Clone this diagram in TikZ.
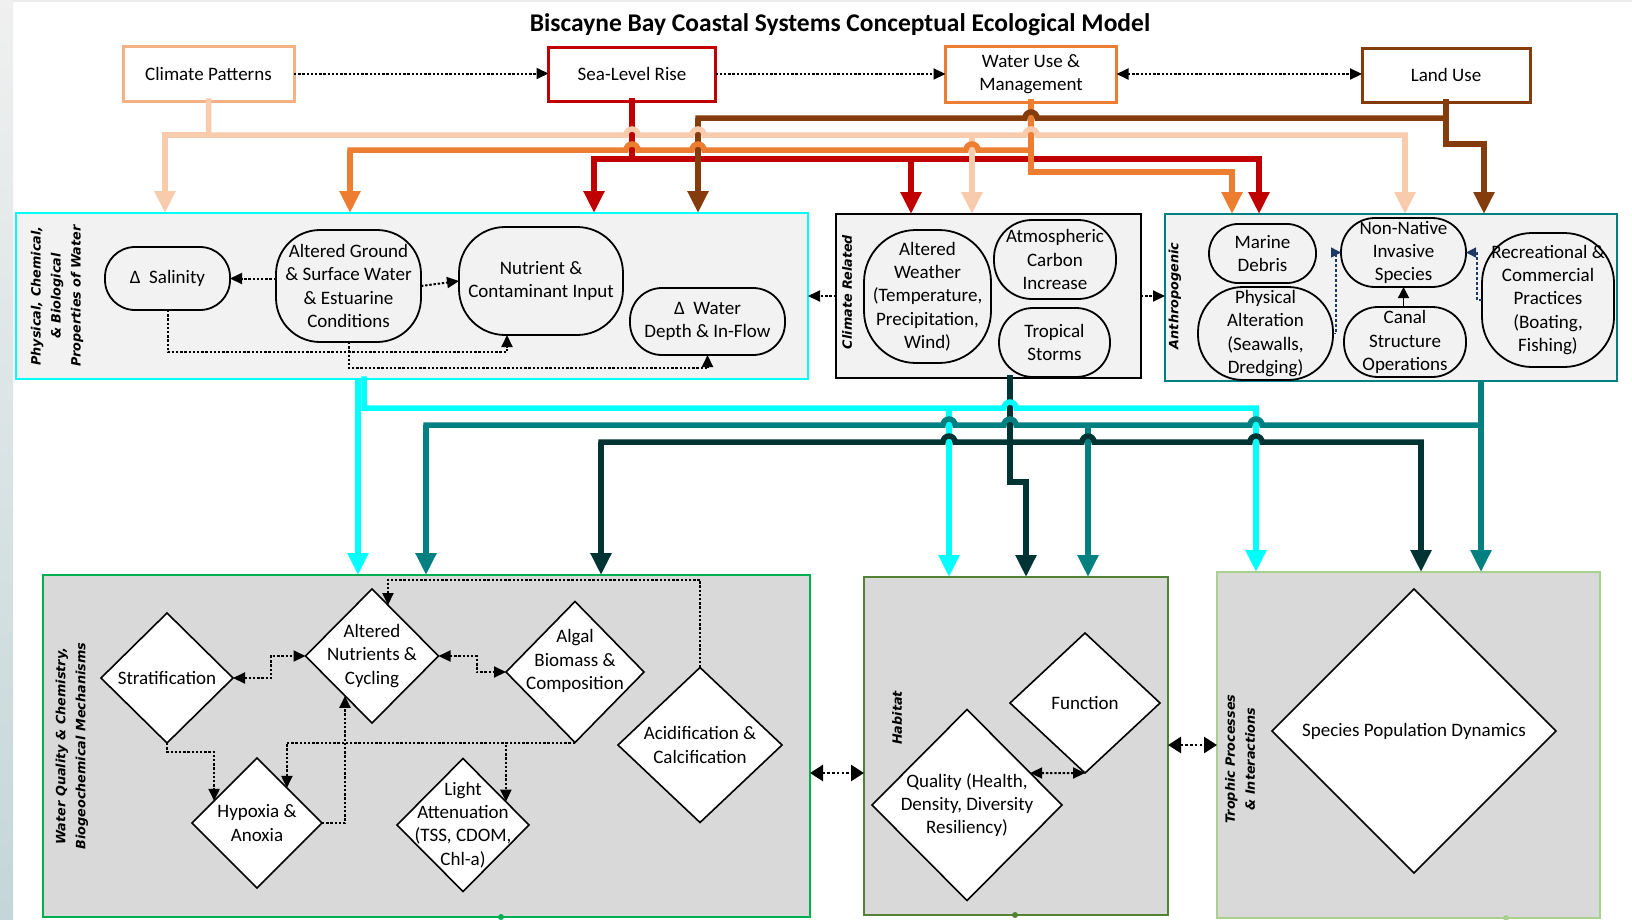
\documentclass[tikz,border=0pt]{standalone}
\usepackage{fontspec}
\setmainfont{Carlito}
\newfontfamily\sidefont{DejaVu Sans}
\usetikzlibrary{shapes.geometric,arrows.meta,calc}

\definecolor{peach}{HTML}{F8CBAD}
\definecolor{peachedge}{HTML}{F4B183}
\definecolor{slrred}{HTML}{C00000}
\definecolor{wuorange}{HTML}{ED7D31}
\definecolor{lubrown}{HTML}{843C0C}
\definecolor{aqua}{HTML}{00FFFF}
\definecolor{tealline}{HTML}{008080}
\definecolor{deepteal}{HTML}{003333}
\definecolor{navyline}{HTML}{1F3864}
\definecolor{wqgreen}{HTML}{00B050}
\definecolor{habgreen}{HTML}{548235}
\definecolor{trgreen}{HTML}{A9D18E}
\definecolor{panellight}{HTML}{F2F2F2}
\definecolor{panelgray}{HTML}{D9D9D9}

\tikzset{
  txt/.style={font=\fontsize{19}{23.3}\selectfont, align=center},
  topbox/.style={txt, draw, line width=3pt, fill=white, inner sep=0pt, outer sep=0pt},
  panel/.style={draw, line width=2.5pt, inner sep=0pt, outer sep=0pt},
  oval/.style={txt, draw=black, line width=1.8pt, fill=panellight, inner sep=0pt, outer sep=0pt},
  dia/.style={diamond, draw=black, line width=1.6pt, fill=white, inner sep=0pt, outer sep=0pt},
  side/.style={font=\sidefont\bfseries\itshape\fontsize{12.8}{20}\selectfont, align=center, rotate=90},
  feed/.style={line width=5.5pt, -{Triangle[length=22pt,width=20pt]}},
  trunk/.style={line width=5.5pt, line cap=rect},
  dots/.style={line width=2pt, dash pattern=on 2.4pt off 1.8pt},
  dotarrow/.style={dots, -{Triangle[length=12pt,width=11pt]}},
  dotboth/.style={dots, {Triangle[length=12pt,width=11pt]}-{Triangle[length=12pt,width=11pt]}},
  bigboth/.style={line width=2.6pt, dash pattern=on 2.6pt off 2.2pt,
    {Triangle[length=13pt,width=16pt]}-{Triangle[length=13pt,width=16pt]}},
  navyarrow/.style={navyline, line width=1.4pt, dash pattern=on 3pt off 2pt,
    -{Triangle[length=10pt,width=10pt]}},
  solidarrow/.style={line width=1.5pt, -{Triangle[length=11pt,width=11pt]}},
}

\begin{document}
\begin{tikzpicture}[x=1pt,y=-1pt]
\useasboundingbox (0,0) rectangle (1632,919);
\fill[white] (0,0) rectangle (1632,919);
\shade[top color=black!6, bottom color={rgb,255:red,196;green,214;blue,217}] (0,0) rectangle (13,919);
\fill[black!8] (13,0) rectangle (1632,2);

% ---------- title ----------
\node[font=\bfseries\fontsize{25.5}{30}\selectfont] (title) at (840,25)
  {Biscayne Bay Coastal Systems Conceptual Ecological Model};

% ---------- drivers ----------
\node[topbox, draw=peachedge, minimum width=171pt, minimum height=55pt] (cp) at (208.5,73.5) {Climate Patterns};
\node[topbox, draw=slrred, minimum width=167pt, minimum height=54pt] (slr) at (632,74) {Sea-Level Rise};
\node[topbox, draw=wuorange, minimum width=171pt, minimum height=56pt] (wu) at (1031,74) {Water Use \&\\ Management};
\node[topbox, draw=lubrown, minimum width=168pt, minimum height=54pt] (lu) at (1446,75) {Land Use};

\draw[dotarrow] (cp.east) -- (slr.west |- cp.east);
\draw[dotarrow] (slr.east) -- (wu.west |- slr.east);
\draw[dotboth] (wu.east) -- (lu.west |- wu.east);

% ---------- stressor panels ----------
\node[panel, draw=aqua, fill=panellight, minimum width=792pt, minimum height=166pt] (phys) at (412,296) {};
\node[panel, draw=black, fill=panellight, minimum width=305pt, minimum height=164pt] (clim) at (988.5,296) {};
\node[panel, draw=tealline, line width=2pt, fill=panellight, minimum width=452pt, minimum height=167pt] (anth) at (1391,297.5) {};

\node[side] (physlbl) at (57,296) {Physical, Chemical,\\ \& Biological\\ Properties of Water};
\node[side] (climlbl) at (847,292) {Climate Related};
\node[side] (anthlbl) at (1175,296) {Anthropogenic};

% physical, chemical & biological properties
\node[oval, rounded corners=30pt, minimum width=125pt, minimum height=63pt] (sal) at (167.5,278.5) {Δ\ \ Salinity};
\node[oval, rounded corners=44pt, minimum width=145pt, minimum height=112pt] (ag) at (348.5,286)
  {Altered Ground\\ \& Surface Water\\ \& Estuarine\\ Conditions};
\node[oval, rounded corners=46pt, minimum width=164pt, minimum height=108pt] (nci) at (541,281)
  {Nutrient \&\\ Contaminant Input};
\node[oval, rounded corners=32pt, minimum width=155pt, minimum height=67pt] (wd) at (707.5,321.5)
  {Δ\ \ Water\\ Depth \& In-Flow};

\draw[dotarrow] (ag.west |- sal.east) -- (sal.east);
\draw[dotarrow] (ag.east) -- (nci.west);
\draw[dotarrow] (sal.south) |- ($(nci.south)+(-34,17)$) -- ($(nci.south)+(-34,0)$);
\draw[dotarrow] (ag.south) -- ++(0,26) -| (wd.south);

% climate related
\node[oval, rounded corners=52pt, minimum width=127pt, minimum height=133pt] (aw) at (927.5,296.5)
  {Altered\\ Weather\\ (Temperature,\\ Precipitation,\\ Wind)};
\node[oval, rounded corners=38pt, minimum width=122pt, minimum height=79pt] (ac) at (1055,259.5)
  {Atmospheric\\ Carbon\\ Increase};
\node[oval, rounded corners=34pt, minimum width=111pt, minimum height=69pt] (ts) at (1054.5,342.5)
  {Tropical\\ Storms};

\draw[dotarrow] (clim.west) -- (phys.east |- clim.west);
\draw[dotarrow] (clim.east) -- (anth.west |- clim.east);

% anthropogenic
\node[oval, rounded corners=29pt, minimum width=107pt, minimum height=59pt] (md) at (1262.5,253.5)
  {Marine\\ Debris};
\node[oval, rounded corners=45pt, minimum width=135pt, minimum height=93pt] (pa) at (1265.5,333.5)
  {Physical\\ Alteration\\ (Seawalls,\\ Dredging)};
\node[oval, rounded corners=34pt, minimum width=125pt, minimum height=69pt] (nn) at (1403.5,252.5)
  {Non-Native\\ Invasive\\ Species};
\node[oval, rounded corners=34pt, minimum width=122pt, minimum height=70pt] (canal) at (1405,342)
  {Canal\\ Structure\\ Operations};
\node[oval, rounded corners=50pt, minimum width=132pt, minimum height=134pt] (rec) at (1548,300)
  {Recreational \&\\ Commercial\\ Practices\\ (Boating,\\ Fishing)};

\draw[navyarrow] (pa.east) -- ++(3,0) |- (nn.west);
\draw[navyarrow] (rec.west) -- ++(-5,0) |- (nn.east);
\draw[solidarrow] (canal.north -| nn.south) -- (nn.south);

% ---------- driver feeds ----------
% sea-level rise: trunk and branches, crossed over by the other feeds
\draw[trunk, slrred] (slr.south) -- (632,159);
\draw[trunk, slrred] (594,159) -- (1259,159);
\draw[feed, slrred] (594,159) -- (594,0 |- phys.north);
\draw[feed, slrred] (911,159) -- (911,0 |- clim.north);
\draw[feed, slrred] (1259,159) -- (1259,0 |- anth.north);

\draw[feed, peach] (208.5,135) -| (165,0 |- phys.north);
\draw[feed, peach] (972,135) -- (972,0 |- clim.north);
\draw[feed, peach] (1405,135) -- (1405,0 |- anth.north);

\draw[trunk, wuorange] (wu.south) -- (1031,172) -- (1232,172);
\draw[feed, wuorange] (1232,172) -- (1232,0 |- anth.north);
\draw[feed, wuorange] (350,150) -- (350,0 |- phys.north);

\draw[trunk, lubrown] (lu.south) -- (1446,144) -- (1484,144);
\draw[feed, lubrown] (1484,144) -- (1484,0 |- anth.north);
\draw[feed, lubrown] (698,118) -- (698,0 |- phys.north);

% horizontal runs hopping over the verticals they cross
\draw[trunk, lubrown] (1446,118) -- (1037,118) arc[start angle=360,end angle=180,radius=6] -- (698,118);
\draw[trunk, peach] (cp.south) -- (208.5,135) -- (626,135) arc[start angle=180,end angle=360,radius=6]
  -- (692,135) arc[start angle=180,end angle=360,radius=6]
  -- (1025,135) arc[start angle=180,end angle=360,radius=6] -- (1405,135);
\draw[trunk, wuorange] (1031,150) -- (978,150) arc[start angle=360,end angle=180,radius=6]
  -- (704,150) arc[start angle=360,end angle=180,radius=6]
  -- (638,150) arc[start angle=360,end angle=180,radius=6] -- (350,150);

% ---------- ecosystem panels ----------
\node[panel, draw=wqgreen, line width=2.2pt, fill=panelgray, minimum width=767pt, minimum height=342pt] (wq) at (426.5,746) {};
\node[panel, draw=habgreen, fill=panelgray, minimum width=304pt, minimum height=338pt] (hab) at (1016,746) {};
\node[panel, draw=trgreen, fill=panelgray, minimum width=383pt, minimum height=346pt] (troph) at (1408.5,745) {};

\fill[wqgreen] (501,917) circle[radius=3pt];
\fill[habgreen] (1015,915) circle[radius=3pt];
\fill[trgreen] (1506,918) circle[radius=3pt];

\node[side] (wqlbl) at (72,746) {Water Quality \& Chemistry,\\ Biogeochemical Mechanisms};
\node[side] (hablbl) at (897,718) {Habitat};
\node[side] (trlbl) at (1240,759) {Trophic Processes\\ \& Interactions};

% water quality & chemistry
\node[dia, minimum width=132pt, minimum height=130pt, label={[txt]center:Stratification}] (strat) at (167,678) {};
\node[dia, minimum width=133pt, minimum height=134pt, label={[txt]center:Altered\\ Nutrients \&\\ Cycling}] (an) at (372,656) {};
\node[dia, minimum width=138pt, minimum height=141pt, label={[txt,yshift=11pt]center:Algal\\ Biomass \&\\ Composition}] (alg) at (575,672) {};
\node[dia, minimum width=164pt, minimum height=155pt, label={[txt]center:Acidification \&\\ Calcification}] (acid) at (700,745) {};
\node[dia, minimum width=130pt, minimum height=130pt, label={[txt]center:Hypoxia \&\\ Anoxia}] (hyp) at (257,823) {};
\node[dia, minimum width=132pt, minimum height=133pt, label={[txt]center:{Light\\ Attenuation\\ (TSS, CDOM,\\ Chl-a)}}] (light) at (463,825) {};

\draw[dotboth] (strat.east) -- ++(38,0) |- (an.west);
\draw[dotboth] (an.east) -- ++(38,0) |- (alg.west);
\draw[dotarrow] (strat.south) -- ++(0,9) -| ($(hyp.west)!0.34!(hyp.north)$);
\draw[dotarrow] (alg.south) -| ($(hyp.north)!0.46!(hyp.east)$);
\draw[dotarrow] (alg.south) -| ($(light.north)!0.65!(light.east)$);
\draw[dotarrow] (hyp.east) -| ($(an.west)!0.594!(an.south)$);
\draw[dotarrow] (acid.north) -- ++(0,-88) -| ($(an.north)!0.24!(an.east)$);

% habitat
\node[dia, minimum width=150pt, minimum height=140pt, label={[txt]center:Function}] (func) at (1085,703) {};
\node[dia, minimum width=190pt, minimum height=191pt, label={[txt]center:{Quality (Health,\\ Density, Diversity\\ Resiliency)}}] (qual) at (967,805) {};
\draw[dotboth] ($(qual.north)!0.665!(qual.east)$) -- (func.south);

% trophic processes
\node[dia, minimum width=284pt, minimum height=284pt, label={[txt]center:Species Population Dynamics}] (spd) at (1414,731) {};

\draw[bigboth] (wq.east |- 0,773) -- (hab.west |- 0,773);
\draw[bigboth] (hab.east |- 0,745) -- (troph.west |- 0,745);

% ---------- stressor feeds to ecosystem panels ----------
\draw[feed, aqua] (358,0 |- phys.south) -- (358,0 |- wq.north);
\draw[feed, aqua] (949,408) -- (949,0 |- hab.north);
\draw[feed, aqua] (1256,408) -- (1256,0 |- troph.north);

\draw[trunk, deepteal] (1010,0 |- clim.south) -- (1010,482) -- (1026,482);
\draw[feed, deepteal] (1026,482) -- (1026,0 |- hab.north);
\draw[feed, deepteal] (601,442) -- (601,0 |- wq.north);
\draw[feed, deepteal] (1421,442) -- (1421,0 |- troph.north);

\draw[feed, tealline] (1481,0 |- anth.south) -- (1481,0 |- troph.north);
\draw[feed, tealline] (426,425) -- (426,0 |- wq.north);
\draw[feed, tealline] (1088,425) -- (1088,0 |- hab.north);

\draw[trunk, aqua] (364,0 |- phys.south) -- (364,408) -- (1004,408) arc[start angle=180,end angle=360,radius=6] -- (1256,408);
\draw[trunk, tealline] (1481,425) -- (1262,425) arc[start angle=360,end angle=180,radius=6]
  -- (1016,425) arc[start angle=360,end angle=180,radius=6]
  -- (955,425) arc[start angle=360,end angle=180,radius=6] -- (426,425);
\draw[trunk, deepteal] (601,442) -- (943,442) arc[start angle=180,end angle=360,radius=6]
  -- (1082,442) arc[start angle=180,end angle=360,radius=6]
  -- (1250,442) arc[start angle=180,end angle=360,radius=6] -- (1421,442);
\end{tikzpicture}
\end{document}
